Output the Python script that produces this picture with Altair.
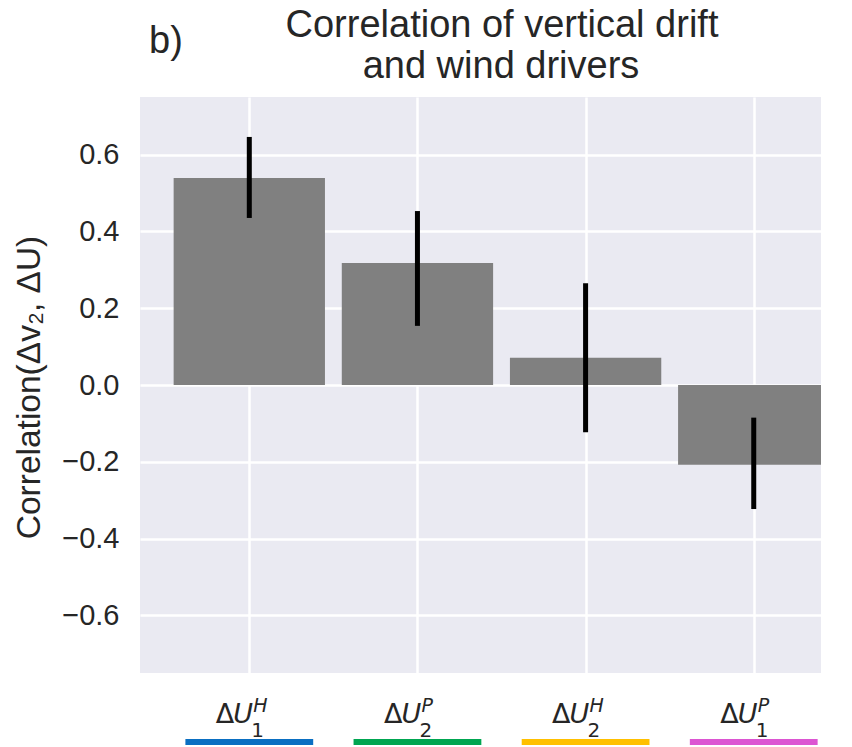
import altair as alt
import pandas as pd

# ---- data ----
title_lines = ["Correlation of vertical drift", "and wind drivers"]
sup_labels = ["H", "P", "H", "P"]
sub_labels = ["1", "2", "2", "1"]
line_colors = ["#0a6fc2", "#00a651", "#ffc000", "#dc55d2"]
values = [0.539, 0.318, 0.071, -0.208]
err_hi = [0.646, 0.453, 0.265, -0.085]
err_lo = [0.435, 0.154, -0.123, -0.323]
y_ticks = [-0.6, -0.4, -0.2, 0.0, 0.2, 0.4, 0.6]

W, H = 681, 576
BAR_HALF = 0.45
LINE_HALF = 0.38

df = pd.DataFrame({
    "pos": list(range(len(values))),
    "value": values,
    "hi": err_hi,
    "lo": err_lo,
    "sup": sup_labels,
    "sub": sub_labels,
    "col": line_colors,
})
df["x0"] = df["pos"] - BAR_HALF
df["x1"] = df["pos"] + BAR_HALF
df["u0"] = df["pos"] - LINE_HALF
df["u1"] = df["pos"] + LINE_HALF
df["delta"] = "Δ"
df["U"] = "U"
df["zero"] = 0.0

xscale = alt.Scale(domain=[-0.65, 3.40], nice=False, zero=False)
yscale = alt.Scale(domain=[-0.75, 0.75], nice=False, zero=False)

base = alt.Chart(df)

bars = base.mark_bar(color="#808080", clip=True).encode(
    x=alt.X("x0:Q", scale=xscale,
            axis=alt.Axis(values=[0, 1, 2, 3], labels=False, ticks=False,
                          domain=False, grid=True, gridColor="white",
                          gridWidth=2.5, gridOpacity=1, title=None)),
    x2="x1:Q",
    y=alt.Y("value:Q", scale=yscale,
            axis=alt.Axis(values=y_ticks, format=".1f", ticks=False,
                          domain=False, grid=True, gridColor="white",
                          gridWidth=2.5, gridOpacity=1, labelFontSize=29,
                          labelFont="Liberation Sans", labelColor="#262626",
                          labelPadding=21,
                          title="Correlation(Δv₂, ΔU)", titleFontSize=33.5,
                          titleFont="Liberation Sans", titleFontWeight="normal",
                          titleColor="#262626", titleAngle=-90,
                          titleX=-101, titleY=290, titleAlign="center",
                          titleBaseline="alphabetic")),
    y2="zero:Q",
)

errs = base.mark_rule(color="black", strokeWidth=5).encode(
    x=alt.X("pos:Q", scale=xscale),
    y=alt.Y("lo:Q", scale=yscale),
    y2="hi:Q",
)

lab_font = "DejaVu Sans"
delta_txt = base.mark_text(font=lab_font, fontSize=27, align="right",
                           baseline="alphabetic", dx=-15, color="#262626").encode(
    x=alt.X("pos:Q", scale=xscale), y=alt.value(626), text="delta:N")
u_txt = base.mark_text(font=lab_font, fontSize=27, fontStyle="italic", align="left",
                       baseline="alphabetic", dx=-16, color="#262626").encode(
    x=alt.X("pos:Q", scale=xscale), y=alt.value(626), text="U:N")
sup_txt = base.mark_text(font=lab_font, fontSize=19, fontStyle="italic", align="left",
                         baseline="alphabetic", dx=4, color="#262626").encode(
    x=alt.X("pos:Q", scale=xscale), y=alt.value(615), text="sup:N")
sub_txt = base.mark_text(font=lab_font, fontSize=20, align="left",
                         baseline="alphabetic", dx=2, color="#262626").encode(
    x=alt.X("pos:Q", scale=xscale), y=alt.value(640), text="sub:N")

underline = base.mark_rule(strokeWidth=6).encode(
    x=alt.X("u0:Q", scale=xscale), x2="u1:Q", y=alt.value(645),
    color=alt.Color("col:N", scale=None),
)

panel = alt.Chart(pd.DataFrame({"t": ["b)"]})).mark_text(
    font="Liberation Sans", fontSize=38, align="left", baseline="alphabetic",
    color="#262626").encode(text="t:N", x=alt.value(9), y=alt.value(-44))

title1 = alt.Chart(pd.DataFrame({"t": [title_lines[0]]})).mark_text(
    font="Liberation Sans", fontSize=38, align="center", baseline="alphabetic",
    color="#262626").encode(text="t:N", x=alt.value(362), y=alt.value(-60))
title2 = alt.Chart(pd.DataFrame({"t": [title_lines[1]]})).mark_text(
    font="Liberation Sans", fontSize=38, align="center", baseline="alphabetic",
    color="#262626").encode(text="t:N", x=alt.value(361), y=alt.value(-19))

chart = alt.layer(bars, errs, underline, delta_txt, u_txt, sup_txt, sub_txt,
                  panel, title1, title2).properties(
    width=W, height=H,
    background="white",
    autosize=alt.AutoSizeParams(type="none"),
    padding={"left": 140, "top": 97, "right": 31, "bottom": 74},
).configure_view(fill="#EAEAF2", strokeWidth=0, stroke="transparent")

chart.save("out.html", embed_options={"renderer": "svg", "actions": False})
